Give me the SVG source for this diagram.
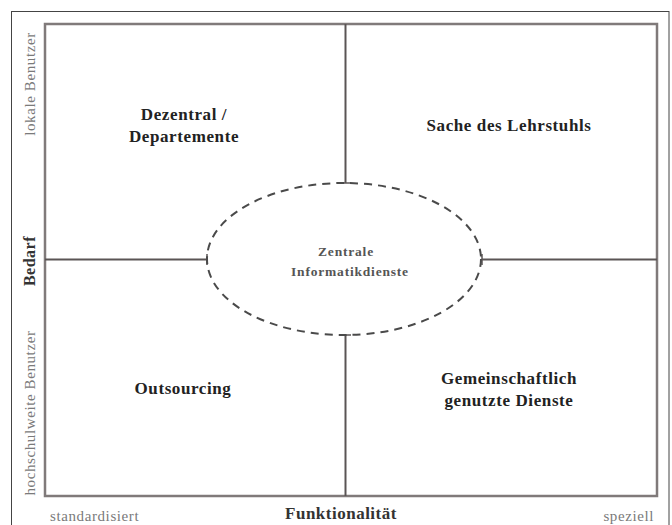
<svg xmlns="http://www.w3.org/2000/svg" width="672" height="525" viewBox="0 0 672 525">
  <style>
    .frame { fill: none; stroke: #807a7a; stroke-width: 2.5; }
    .axis { fill: none; stroke: #5a5555; stroke-width: 2; }
    .tick { stroke: #5a5555; stroke-width: 1.5; }
    .oval { fill: none; stroke: #4a4a4a; stroke-width: 2; stroke-dasharray: 8 6; }
    .q { font-family: "Liberation Serif", "DejaVu Serif", serif; font-weight: bold; font-size: 17px; letter-spacing: 0.6px; fill: #222; text-anchor: middle; }
    .c { font-family: "Liberation Serif", "DejaVu Serif", serif; font-weight: bold; font-size: 13.5px; letter-spacing: 0.8px; fill: #555; text-anchor: middle; }
    .lbl { font-family: "Liberation Serif", "DejaVu Serif", serif; font-size: 15px; letter-spacing: 0.6px; fill: #7a7a7a; }
    .axt { font-family: "Liberation Serif", "DejaVu Serif", serif; font-weight: bold; font-size: 17px; letter-spacing: 0.5px; fill: #333; text-anchor: middle; }
  </style>

  <rect x="0" y="0" width="672" height="525" fill="#ffffff"/>
  <!-- outer border -->
  <rect x="11.5" y="11.5" width="657.5" height="530" fill="none" stroke="#444" stroke-width="1"/>

  <!-- portfolio frame -->
  <rect class="frame" x="45" y="24" width="612" height="472"/>

  <g id="connectors">
    <line class="axis" x1="345.5" y1="24" x2="345.5" y2="183"/>
    <line class="axis" x1="345.5" y1="335" x2="345.5" y2="496"/>
    <line class="axis" x1="45" y1="259.5" x2="207" y2="259.5"/>
    <line class="axis" x1="482" y1="259.5" x2="657" y2="259.5"/>
    <line class="tick" x1="340" y1="183" x2="351" y2="183"/>
    <line class="tick" x1="340" y1="335" x2="351" y2="335"/>
    <line class="tick" x1="207" y1="254" x2="207" y2="265"/>
    <line class="tick" x1="482" y1="254" x2="482" y2="265"/>
  </g>

  <g id="zentrale">
    <ellipse class="oval" cx="344" cy="259" rx="137" ry="76"/>
    <text class="c" x="346" y="256">Zentrale</text>
    <text class="c" x="350" y="276">Informatikdienste</text>
  </g>

  <g id="dezentral">
    <text class="q" x="184" y="120">Dezentral /</text>
    <text class="q" x="184" y="142">Departemente</text>
  </g>

  <g id="lehrstuhl">
    <text class="q" x="509" y="131">Sache des Lehrstuhls</text>
  </g>

  <g id="outsourcing">
    <text class="q" x="183" y="394">Outsourcing</text>
  </g>

  <g id="gemeinschaft">
    <text class="q" x="509" y="384">Gemeinschaftlich</text>
    <text class="q" x="509" y="406">genutzte Dienste</text>
  </g>

  <!-- axis labels -->
  <text class="lbl" transform="translate(35,84) rotate(-90)" text-anchor="middle">lokale Benutzer</text>
  <text class="axt" transform="translate(35,261) rotate(-90)" style="font-size:16px">Bedarf</text>
  <text class="lbl" transform="translate(35,413) rotate(-90)" text-anchor="middle">hochschulweite Benutzer</text>

  <text class="lbl" x="50" y="521">standardisiert</text>
  <text class="axt" x="341" y="519">Funktionalität</text>
  <text class="lbl" x="654" y="521" text-anchor="end">speziell</text>
</svg>
